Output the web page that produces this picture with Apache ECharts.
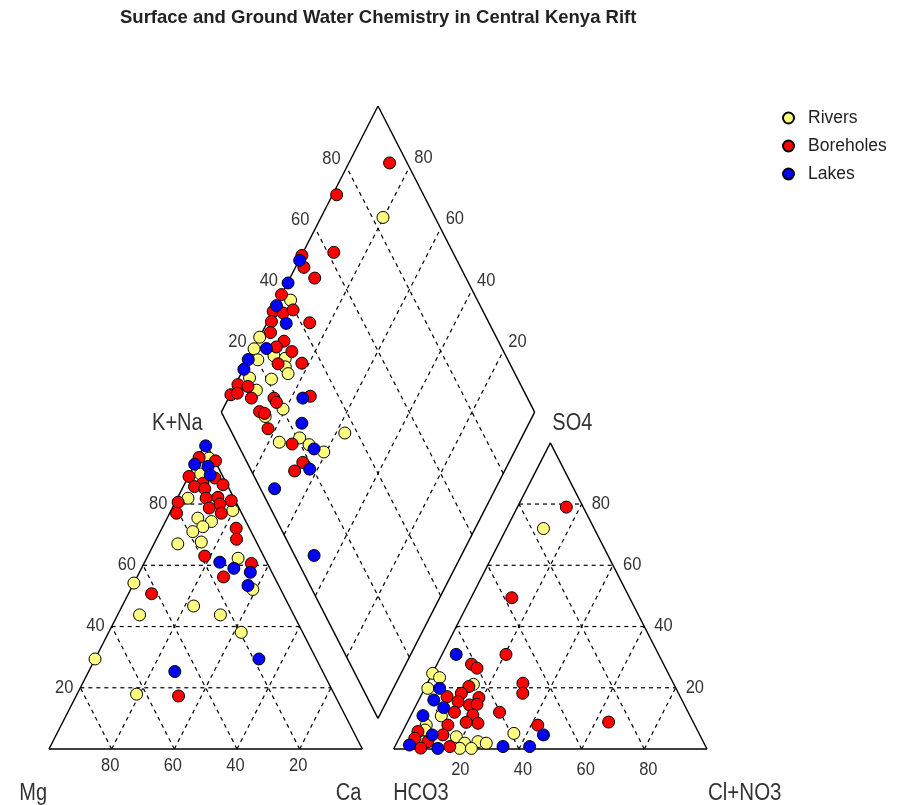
<!DOCTYPE html>
<html>
<head>
<meta charset="utf-8">
<script src="https://cdn.jsdelivr.net/npm/echarts@6/dist/echarts.min.js"></script>
<style>
  html, body { margin: 0; background: #fff; }
  #chart { width: 901px; height: 805px; }
</style>
</head>
<body>
<div id="chart"></div>
<script>
// cation triangle, [Ca %, Na+K %]  (Mg = rest)
const riversCation = [[3.6,95],[3.5,89.8],[3.4,81.9],[19.7,77.9],[9.8,75.4],[14.7,74.3],[12.8,72.6],[10.4,71],[7.6,67],[14.8,67.6],[29.2,62.3],[39,52.1],[0,54.2],[22.8,46.7],[7,43.8],[32.8,43.8],[42.3,38.1],[0,29.4],[19,17.9]]
const boreholesCation = [[0.3,95.2],[6.1,94.1],[0.2,89],[8.7,88.5],[5.7,86.8],[3.6,85.7],[12.4,86.3],[7.2,85],[0.9,80.6],[9.2,81.9],[12.8,82.2],[14.5,80],[11.8,78.7],[17.6,81.1],[2.2,77],[16.5,77],[23.7,72.1],[25.6,68.5],[18.2,63],[34.3,60.6],[27.6,56.2],[7.4,50.7],[32.7,17.3]]
const lakesCation = [[0.5,99],[0,93],[4.6,92.3],[6.7,89.5],[24,61],[29.5,59],[35.4,57.7],[36.8,53.4],[27.5,25.3],[52.3,29.4]]

// anion triangle, [Cl+NO3 %, SO4 %]  (HCO3 = rest)
const riversAnion = [[11.8,72],[0.1,24.7],[3,23.3],[1,19.8],[14.9,21.1],[9.8,10.8],[6.5,7.8],[6.9,6.2],[35.8,5.1],[18,4],[21.7,1.9],[25.7,2.4],[28.6,1.9],[21,0.2],[24.7,0.2],[8.1,2.3]]
const boreholesAnion = [[15.6,79],[13,49.4],[20.4,30.9],[11,27.7],[13.4,26.4],[13.8,20.4],[12.5,18.2],[8.5,17.1],[18.8,16.8],[30.5,21.5],[32.1,18.2],[12.8,15.5],[17,14.4],[19.3,14.6],[27.8,12],[13.4,12],[19.7,11.1],[22.7,8.4],[18.8,8.7],[13.4,7.8],[42.1,7.8],[4.9,5.7],[5,3.5],[13.4,4.6],[9.7,2.4],[17.5,0.8],[64.2,8.8],[8.5,0.3]]
const lakesAnion = [[4.5,30.9],[4.8,19.8],[4.8,16],[9.2,13.5],[3.9,10.9],[10,4.6],[4.4,1.3],[14,0.2],[34.5,0.8],[43,0.8],[45.5,4.6]]

// diamond, [SO4+Cl %, 100 - Ca %]
const riversDiamond = [[83.4,80.2],[40.4,96.2],[24.5,100],[20.8,99.9],[20.2,96.9],[26,92.4],[29.2,88.4],[27.8,87],[27.6,85],[14.6,96.6],[21.4,89.4],[14.8,92.4],[20.2,80.8],[13.3,85.3],[36,57.2],[13.6,76.6],[20.8,70.8],[22.7,66.7],[26.2,60.8]]
const boreholesDiamond = [[94.4,87],[72.3,98.7],[62,90.2],[51.3,99.9],[50,97.3],[51.7,92.1],[38.4,100],[33,99.9],[35.9,96.5],[39.6,93.8],[30.8,98.8],[42.8,86.4],[28.7,97.3],[31.6,91.6],[28.2,93.1],[32.4,87.4],[26,89.8],[33.7,82.3],[9.8,99.2],[5.9,99.8],[8.2,98],[12.7,95.7],[11.9,92.7],[19.1,85.5],[31,74.2],[12.3,87.9],[13.6,86],[19.2,84],[12.2,82.4],[17.4,72.2],[17.8,65.8],[13.8,67]]
const lakesDiamond = [[49.8,99.8],[42.4,99.8],[35,99.8],[35.2,93.8],[24.8,96],[17.2,100],[14.2,99.8],[28.3,76.3],[23.9,72.5],[23.6,64.4],[18.9,62.5],[4.5,70.5],[6.2,47]]

const ticks = [20, 40, 60, 80]
const groupNames = ['Rivers', 'Boreholes', 'Lakes']
const groupColors = ['#ffff80', '#ff0000', '#0000ff']

const FONT = '"Liberation Sans", Arial, sans-serif'
const GAP = 10  // space between the two triangles, in plot units

// ternary -> plot units (triangle base 100 wide, 100 high)
const cationXY = (ca, nak) => [ca + nak / 2, nak]
const anionXY = (cl, so4) => [100 + GAP + cl + so4 / 2, so4]
const diamondXY = (s, t) => [100 + GAP / 2 + (s - t) / 2, GAP + s + t]

// frame + grid segments
const segments = []
const seg = (a, b, dashed) => segments.push([a[0], a[1], b[0], b[1], dashed ? 1 : 0])
const tri = (f) => {
  seg(f(0, 0), f(100, 0)); seg(f(100, 0), f(0, 100)); seg(f(0, 100), f(0, 0))
  ticks.forEach(v => {
    seg(f(0, v), f(100 - v, v), true)
    seg(f(v, 0), f(v, 100 - v), true)
    seg(f(100 - v, 0), f(0, 100 - v), true)
  })
}
tri(cationXY)
tri(anionXY)
seg(diamondXY(0, 0), diamondXY(0, 100)); seg(diamondXY(0, 100), diamondXY(100, 100))
seg(diamondXY(100, 100), diamondXY(100, 0)); seg(diamondXY(100, 0), diamondXY(0, 0))
ticks.forEach(v => {
  seg(diamondXY(v, 0), diamondXY(v, 100), true)
  seg(diamondXY(0, v), diamondXY(100, v), true)
})

// text labels
const labels = []
const lab = (pos, text, align, dx, dy, size, sy) => labels.push({ pos, text, align, dx, dy, size, sy })
ticks.forEach(v => {
  lab(cationXY(100 - v, 0), String(v), 'center', -1.5, 17, 16.5, 1.08)
  lab(cationXY(0, v), String(v), 'right', -7, 0, 16.5, 1.08)
  lab(anionXY(v, 0), String(v), 'center', 4, 21.5, 16.5, 1.08)
  lab(anionXY(100 - v, v), String(v), 'left', 10, 0, 16.5, 1.08)
  lab(diamondXY(v, 100), String(v), 'right', -6, -8.5, 16.5, 1.08)
  lab(diamondXY(100, v), String(v), 'left', 5, -9, 16.5, 1.08)
})
lab(cationXY(0, 0), 'Mg', 'right', -2, 44.5, 20, 1.15)
lab(cationXY(100, 0), 'Ca', 'right', -1, 44.5, 20, 1.15)
lab(cationXY(0, 100), 'K+Na', 'right', -3, -19, 20, 1.15)
lab(anionXY(0, 0), 'HCO3', 'left', -0.5, 44.5, 20, 1.15)
lab(anionXY(100, 0), 'Cl+NO3', 'left', 1, 44.5, 20.5, 1.15)
lab(anionXY(0, 100), 'SO4', 'left', 2, -19, 20, 1.15)

const groups = [
  [riversCation, riversAnion, riversDiamond],
  [boreholesCation, boreholesAnion, boreholesDiamond],
  [lakesCation, lakesAnion, lakesDiamond]
]

const pointSeries = groups.map((g, i) => ({
  name: groupNames[i],
  type: 'scatter',
  symbol: 'circle',
  symbolSize: 12,
  z: 3,
  itemStyle: { color: groupColors[i], borderColor: '#000', borderWidth: 1, opacity: 1 },
  emphasis: { disabled: true },
  data: [
    ...g[0].map(p => cationXY(p[0], p[1])),
    ...g[1].map(p => anionXY(p[0], p[1])),
    ...g[2].map(p => diamondXY(p[0], p[1]))
  ]
}))

const chart = echarts.init(document.getElementById('chart'))
chart.setOption({
  animation: false,
  title: {
    text: 'Surface and Ground Water Chemistry in Central Kenya Rift',
    left: 115,
    top: 3,
    textStyle: { fontFamily: FONT, fontSize: 18.5, fontWeight: 'bold', color: '#222' }
  },
  legend: {
    data: groupNames,
    orient: 'vertical',
    left: 777,
    top: 104,
    itemWidth: 29,
    itemHeight: 11,
    itemGap: 10,
    textStyle: { fontFamily: FONT, fontSize: 17.5, color: '#222' }
  },
  grid: { left: 49, top: 106, width: 658, height: 643 },
  xAxis: { type: 'value', min: 0, max: 200 + GAP, show: false },
  yAxis: { type: 'value', min: 0, max: 200 + GAP, show: false },
  series: [
    {
      type: 'custom',
      silent: true,
      clip: false,
      z: 1,
      encode: { x: [0, 2], y: [1, 3] },
      data: segments,
      renderItem: (params, api) => {
        const p1 = api.coord([api.value(0), api.value(1)])
        const p2 = api.coord([api.value(2), api.value(3)])
        const dashed = api.value(4) === 1
        return {
          type: 'line',
          shape: { x1: p1[0], y1: p1[1], x2: p2[0], y2: p2[1] },
          style: {
            stroke: '#000',
            lineWidth: dashed ? 1.2 : 1.4,
            lineDash: dashed ? [4, 4] : null
          }
        }
      }
    },
    {
      type: 'custom',
      silent: true,
      clip: false,
      z: 2,
      data: labels.map(l => l.pos),
      renderItem: (params, api) => {
        const l = labels[params.dataIndex]
        const p = api.coord([api.value(0), api.value(1)])
        return {
          type: 'text',
          x: p[0] + l.dx,
          y: p[1] + l.dy,
          scaleY: l.sy,
          style: {
            text: l.text,
            fontFamily: FONT,
            fontSize: l.size,
            fill: '#333',
            align: l.align,
            verticalAlign: 'middle'
          }
        }
      }
    },
    ...pointSeries
  ]
})
</script>
</body>
</html>
